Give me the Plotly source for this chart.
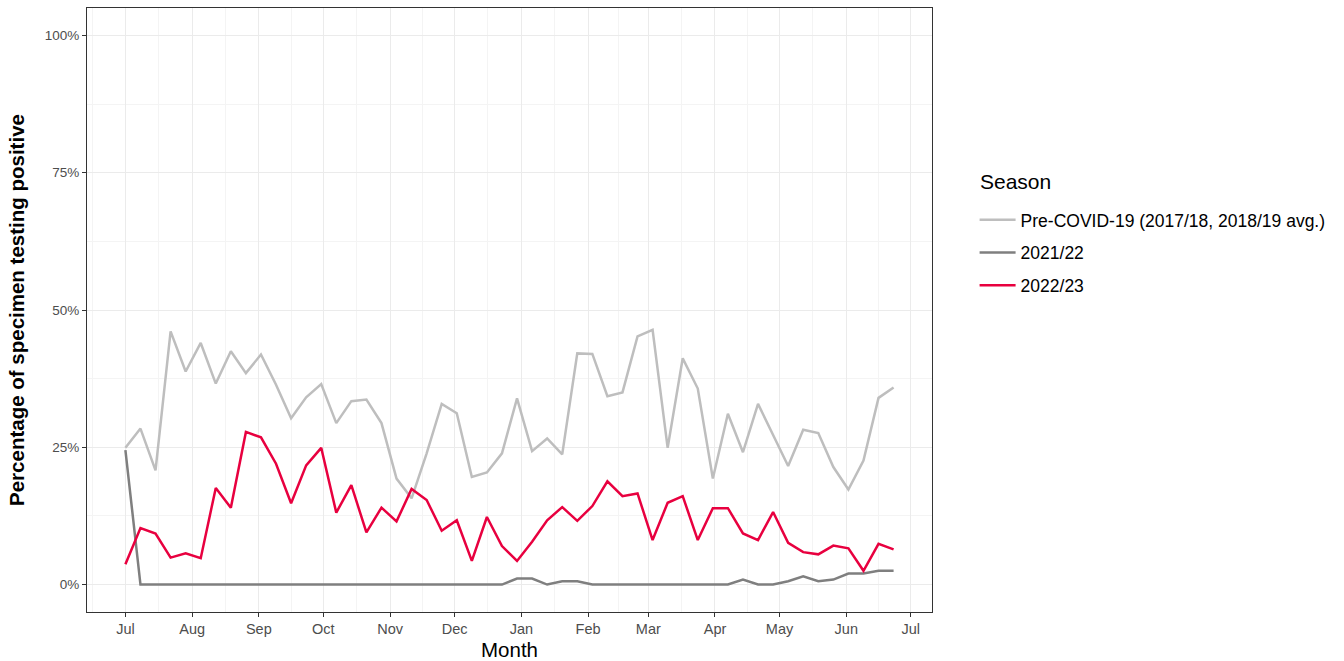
import pandas as pd
import plotly.graph_objects as go

# ---- data ----
week_start = "2022-07-01"
n_weeks = 52
season_names = ["Pre-COVID-19 (2017/18, 2018/19 avg.)", "2021/22", "2022/23"]

pre_covid = [24.9, 28.4, 20.8, 46.1, 38.8, 44.0, 36.6, 42.5, 38.5, 41.9, 36.4,
             30.3, 34.1, 36.5, 29.4, 33.4, 33.7, 29.4, 19.3, 15.7, 23.9, 32.9,
             31.2, 19.6, 20.4, 23.9, 33.9, 24.3, 26.6, 23.7, 42.1, 42.0, 34.3,
             35.0, 45.2, 46.4, 24.9, 41.2, 35.7, 19.3, 31.1, 24.1, 32.9, 27.4,
             21.6, 28.2, 27.6, 21.4, 17.3, 22.6, 34.0, 35.9]

season_2122 = [24.5, 0, 0, 0, 0, 0, 0, 0, 0, 0, 0,
               0, 0, 0, 0, 0, 0, 0, 0, 0, 0, 0,
               0, 0, 0, 0, 1.1, 1.1, 0, 0.6, 0.6, 0, 0,
               0, 0, 0, 0, 0, 0, 0, 0, 0.9, 0, 0,
               0.6, 1.5, 0.6, 0.9, 2.0, 2.0, 2.5, 2.5]

season_2223 = [3.7, 10.3, 9.3, 4.9, 5.7, 4.8, 17.6, 14.0, 27.8, 26.8, 22.0,
               14.8, 21.7, 24.9, 13.1, 18.1, 9.5, 14.0, 11.5, 17.4, 15.4, 9.8,
               11.7, 4.3, 12.3, 7.0, 4.3, 7.8, 11.7, 14.1, 11.6, 14.3, 18.8,
               16.1, 16.6, 8.1, 14.9, 16.1, 8.1, 13.9, 13.9, 9.3, 8.1, 13.2,
               7.6, 5.9, 5.5, 7.1, 6.6, 2.5, 7.4, 6.4]

y_ticks = [0, 25, 50, 75, 100]
y_ticklabels = ["0%", "25%", "50%", "75%", "100%"]

colors = ["#BEBEBE", "#7F7F7F", "#E8003F"]

# ---- build ----
dates = pd.date_range(week_start, periods=n_weeks, freq="7D")
span = dates[-1] - dates[0]
x_lo = dates[0] - span * 0.05
x_hi = dates[-1] + span * 0.05

month_breaks = pd.date_range("2022-07-01", "2023-07-01", freq="MS")
minor_x = [month_breaks[i] + (month_breaks[i + 1] - month_breaks[i]) / 2
           for i in range(len(month_breaks) - 1)]
minor_x = [month_breaks[0] - (month_breaks[1] - month_breaks[0]) / 2] + minor_x
minor_y = [(y_ticks[i] + y_ticks[i + 1]) / 2 for i in range(len(y_ticks) - 1)]

fig = go.Figure()
for name, vals, col in zip(season_names, [pre_covid, season_2122, season_2223], colors):
    fig.add_trace(go.Scatter(
        x=dates, y=vals, mode="lines", name=name, legendgroup=name,
        line=dict(color=col, width=2.5),
    ))

font_family = "Liberation Sans, Arial, sans-serif"
fig.update_layout(
    width=1344, height=661,
    margin=dict(l=87, r=412, t=8, b=49),
    plot_bgcolor="white", paper_bgcolor="white",
    font=dict(family=font_family, color="#000000"),
    showlegend=True,
    legend=dict(
        font=dict(size=17.5, color="#000000"),
        x=1.0504, xanchor="left", y=0.679, yanchor="top",
        tracegroupgap=7, itemwidth=36,
        bgcolor="rgba(0,0,0,0)",
    ),
    annotations=[dict(
        text="Season", xref="paper", yref="paper",
        x=1.0544, y=0.712, xanchor="left", yanchor="middle",
        showarrow=False, font=dict(size=21, color="#000000"),
    )],
    xaxis=dict(
        type="date", automargin=False,
        range=[str(x_lo), str(x_hi)],
        tick0="2022-07-01", dtick="M1", tickformat="%b",
        ticks="outside", ticklen=4, tickcolor="#333333", tickwidth=1,
        tickfont=dict(size=14.5, color="#4D4D4D"),
        showgrid=True, gridcolor="#EBEBEB", gridwidth=1.1,
        minor=dict(tickmode="array", tickvals=[str(v) for v in minor_x],
                   showgrid=True, gridcolor="#F4F4F4", gridwidth=0.7, ticks=""),
        showline=True, linecolor="#333333", linewidth=1, mirror=True,
        zeroline=False,
        title=dict(text="Month", font=dict(size=20.5, color="#000000"), standoff=9),
    ),
    yaxis=dict(
        automargin=False,
        range=[-5, 105],
        tickmode="array", tickvals=y_ticks, ticktext=y_ticklabels,
        ticks="outside", ticklen=4, tickcolor="#333333", tickwidth=1,
        tickfont=dict(size=13.5, color="#4D4D4D"),
        showgrid=True, gridcolor="#EBEBEB", gridwidth=1.1,
        minor=dict(tickmode="array", tickvals=minor_y,
                   showgrid=True, gridcolor="#F4F4F4", gridwidth=0.7, ticks=""),
        showline=True, linecolor="#333333", linewidth=1, mirror=True,
        zeroline=False,
        title=dict(text="<b>Percentage of specimen testing positive</b>",
                   font=dict(size=20.5, color="#000000"), standoff=14),
    ),
)

fig.write_html("out.html", config={"displayModeBar": False},
               post_script="document.body.style.margin='0';")
